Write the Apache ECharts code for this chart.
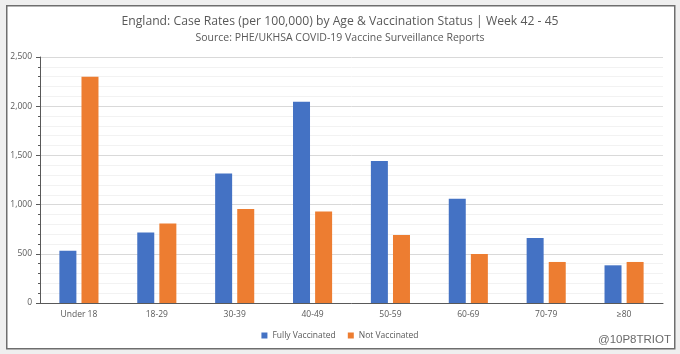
<!DOCTYPE html>
<html>
<head>
<meta charset="utf-8">
<script src="https://cdn.jsdelivr.net/npm/echarts@6/dist/echarts.min.js"></script>
<style>
  html, body { margin: 0; padding: 0; background: #efefef; }
  #chart { width: 680px; height: 354px; }
</style>
</head>
<body>
<div id="chart"></div>
<script>
const ageGroups = ['Under 18', '18-29', '30-39', '40-49', '50-59', '60-69', '70-79', '≥80']
const fullyVaccinated = [531, 717, 1317, 2046, 1443, 1060, 661, 383]
const notVaccinated = [2300, 809, 955, 931, 691, 498, 417, 417]
const yTicks = [0, 500, 1000, 1500, 2000, 2500]

const textColor = '#595959'
const font = '"Open Sans", "Noto Sans", sans-serif'

const chart = echarts.init(document.getElementById('chart'))

const option = {
  animation: false,
  textStyle: { fontFamily: font },
  graphic: [
    {
      type: 'rect',
      left: 6, top: 5,
      shape: { width: 668, height: 343 },
      style: { fill: '#fff', stroke: '#6e6e6e', lineWidth: 1.5 },
      z: -10
    },
    {
      type: 'text',
      right: 9, bottom: 8,
      style: {
        text: '@10P8TRIOT',
        fill: '#6a6a6a',
        font: '11.5px "Liberation Sans", Arial, sans-serif'
      }
    }
  ],
  title: {
    text: 'England: Case Rates (per 100,000) by Age & Vaccination Status | Week 42 - 45',
    subtext: 'Source: PHE/UKHSA COVID-19 Vaccine Surveillance Reports',
    left: 'center',
    top: 11,
    itemGap: 5,
    textStyle: { fontSize: 12.2, fontWeight: 'normal', color: textColor, fontFamily: font },
    subtextStyle: { fontSize: 10.5, color: textColor, fontFamily: font }
  },
  legend: {
    bottom: 9,
    left: 'center',
    itemWidth: 6,
    itemHeight: 6,
    itemGap: 12,
    icon: 'rect',
    textStyle: { fontSize: 8.5, color: textColor, fontFamily: font }
  },
  grid: {
    left: 40,
    right: 17,
    top: 57,
    bottom: 51
  },
  xAxis: {
    type: 'category',
    data: ageGroups,
    axisLine: { lineStyle: { color: '#595959', width: 1 } },
    axisTick: { show: false },
    axisLabel: { color: textColor, fontSize: 8.5, margin: 7 }
  },
  yAxis: {
    type: 'value',
    min: 0,
    max: 2500,
    interval: 500,
    axisLine: { show: true, lineStyle: { color: '#595959' } },
    axisTick: { show: true, length: 4, lineStyle: { color: '#595959' } },
    minorTick: { show: true, splitNumber: 5, length: 2, lineStyle: { color: '#595959' } },
    axisLabel: {
      color: textColor,
      fontSize: 8.5,
      formatter: v => yTicks.includes(v) ? v.toLocaleString('en-US') : ''
    },
    splitLine: { lineStyle: { color: '#d9d9d9' } },
    minorSplitLine: { show: true, lineStyle: { color: '#f2f2f2' } }
  },
  series: [
    {
      name: 'Fully Vaccinated',
      type: 'bar',
      barWidth: 17,
      barGap: '30%',
      itemStyle: { color: '#4472c4' },
      data: fullyVaccinated
    },
    {
      name: 'Not Vaccinated',
      type: 'bar',
      barWidth: 17,
      itemStyle: { color: '#ed7d31' },
      data: notVaccinated
    }
  ]
}

chart.setOption(option)
</script>
</body>
</html>
